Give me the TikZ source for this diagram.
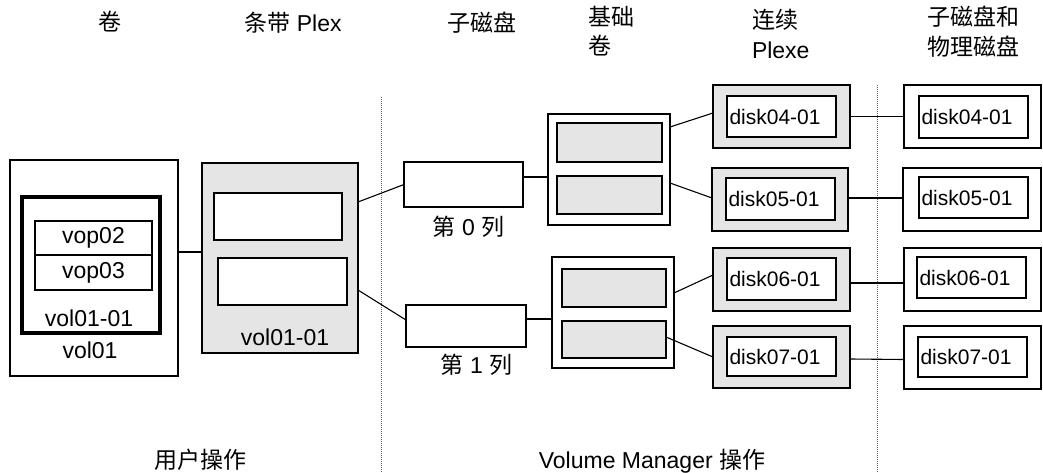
\documentclass[tikz,border=0pt]{standalone}
\usepackage{fontspec}
\setmainfont{Liberation Sans}
\newfontfamily\cjk{Noto Sans CJK SC}
\begin{document}
\begin{tikzpicture}[x=1pt,y=-1pt,
  every node/.style={inner sep=0pt,outer sep=0pt},
  frame/.style={draw,line width=2.2pt},
  thinframe/.style={draw,line width=1.1pt,fill=white},
  shade/.style={fill=black!10},
  lab/.style={font=\fontsize{23}{27}\selectfont},
  dlab/.style={font=\fontsize{21}{25}\selectfont},
  conn/.style={line width=1.1pt},
  tconn/.style={line width=2.2pt},
  sep/.style={line width=1pt,draw=black!60,dash pattern=on 1pt off 1pt}]
\useasboundingbox (0,0) rectangle (1043,473);

% headers
\node[lab,anchor=base] (h1) at (110,31) {\cjk 卷};
\node[lab,anchor=base] (h2) at (293,32) {{\cjk 条带} Plex};
\node[lab,anchor=base] (h3) at (482,32) {\cjk 子磁盘};
\node[lab,anchor=base west] (h4a) at (588,26) {\cjk 基础};
\node[lab,anchor=base west] (h4b) at (588,55) {\cjk 卷};
\node[lab,anchor=base west] (h5a) at (752,29) {\cjk 连续};
\node[lab,anchor=base west] (h5b) at (752,59) {Plexe};
\node[lab,anchor=base] (h6a) at (973,26) {\cjk 子磁盘和};
\node[lab,anchor=base] (h6b) at (973,56) {\cjk 物理磁盘};

% bottom labels
\node[lab,anchor=base] (f1) at (200,468) {\cjk 用户操作};
\node[lab,anchor=base] (f2) at (652,468) {Volume Manager {\cjk 操作}};

% separators
\coordinate (s1t) at (381,97);
\coordinate (s1b) at (381,473);
\coordinate (s2t) at (877,85);
\coordinate (s2b) at (877,473);
\draw[sep] (s1t) -- (s1b);
\draw[sep] (s2t) -- (s2b);

% volume
\node[frame,line width=2pt,minimum width=168pt,minimum height=216pt] (vol) at (94,268) {};
\node[draw,line width=4pt,minimum width=138pt,minimum height=136pt] (volplex) at (91,265) {};
\node[draw,line width=1.8pt,minimum width=117pt,minimum height=34pt,lab] (vop2) at (93.5,238) {vop02};
\node[draw,line width=1.8pt,minimum width=117pt,minimum height=35pt,lab] (vop3) at (93.5,272.5) {vop03};
\node[lab] (lvolplex) at (89,318) {vol01-01};
\node[lab] (lvol) at (90,350) {vol01};

% striped plex
\node[frame,shade,minimum width=156pt,minimum height=190pt] (plex) at (280,258) {};
\node[thinframe,minimum width=128pt,minimum height=47pt] (pc0) at (278,216.5) {};
\node[thinframe,minimum width=129pt,minimum height=47pt] (pc1) at (282.5,281.5) {};
\node[lab] (lplex) at (285,337) {vol01-01};

% subdisks
\node[thinframe,minimum width=119pt,minimum height=45pt] (sd0) at (463.5,184.5) {};
\node[thinframe,minimum width=120pt,minimum height=42pt] (sd1) at (466,326) {};
\node[lab] (lsd0) at (468.5,227) {{\cjk 第} 0 {\cjk 列}};
\node[lab] (lsd1) at (476.5,365) {{\cjk 第} 1 {\cjk 列}};

% base volumes
\node[frame,minimum width=122pt,minimum height=111pt] (bv0) at (609,169.5) {};
\node[frame,shade,minimum width=105pt,minimum height=39pt] (bv0a) at (609.5,142.5) {};
\node[frame,shade,minimum width=105pt,minimum height=38pt] (bv0b) at (609.5,195) {};
\node[frame,minimum width=122pt,minimum height=111pt] (bv1) at (613,312.5) {};
\node[frame,shade,minimum width=104pt,minimum height=38pt] (bv1a) at (614,288) {};
\node[frame,shade,minimum width=104pt,minimum height=37pt] (bv1b) at (614,339.5) {};

% concat plexes
\node[frame,shade,minimum width=137pt,minimum height=63pt] (d4a) at (781.5,116.5) {};
\node[frame,fill=white,minimum width=109pt,minimum height=41pt] (d4ai) at (781.5,116.5) {};
\node[frame,shade,minimum width=136pt,minimum height=63pt] (d5a) at (780,199.5) {};
\node[frame,fill=white,minimum width=109pt,minimum height=42pt] (d5ai) at (780.5,199) {};
\node[frame,shade,minimum width=137pt,minimum height=63pt] (d6a) at (781.5,279.5) {};
\node[frame,fill=white,minimum width=109pt,minimum height=42pt] (d6ai) at (781.5,279) {};
\node[frame,shade,minimum width=137pt,minimum height=62pt] (d7a) at (781.5,357) {};
\node[frame,fill=white,minimum width=109pt,minimum height=39pt] (d7ai) at (781.5,356.5) {};
\node[dlab,anchor=west] (t4a) at ([xshift=2.5pt]d4ai.west) {disk04-01};
\node[dlab,anchor=west] (t5a) at ([xshift=2.5pt]d5ai.west) {disk05-01};
\node[dlab,anchor=west] (t6a) at ([xshift=2.5pt]d6ai.west) {disk06-01};
\node[dlab,anchor=west] (t7a) at ([xshift=2.5pt]d7ai.west) {disk07-01};

% subdisks and physical disks
\node[frame,minimum width=137pt,minimum height=63pt] (d4b) at (972.5,116.5) {};
\node[frame,minimum width=109pt,minimum height=42pt] (d4bi) at (973.5,117) {};
\node[frame,minimum width=138pt,minimum height=63pt] (d5b) at (972,199.5) {};
\node[frame,minimum width=109pt,minimum height=41pt] (d5bi) at (973.5,197.5) {};
\node[frame,minimum width=137pt,minimum height=63pt] (d6b) at (972.5,279.5) {};
\node[frame,minimum width=109pt,minimum height=41pt] (d6bi) at (971.5,277.5) {};
\node[frame,minimum width=137pt,minimum height=63pt] (d7b) at (972.5,357.5) {};
\node[frame,minimum width=109pt,minimum height=40pt] (d7bi) at (972.5,357) {};
\node[dlab,anchor=west] (t4b) at ([xshift=2.5pt]d4bi.west) {disk04-01};
\node[dlab,anchor=west] (t5b) at ([xshift=2.5pt]d5bi.west) {disk05-01};
\node[dlab,anchor=west] (t6b) at ([xshift=2.5pt]d6bi.west) {disk06-01};
\node[dlab,anchor=west] (t7b) at ([xshift=2.5pt]d7bi.west) {disk07-01};

% connectors
\draw[conn] ([yshift=16pt]vol.east) -- ([yshift=6pt]plex.west);
\draw[conn] ([yshift=56pt]plex.east) -- (sd0.west);
\draw[conn] ([yshift=-32pt]plex.east) -- ([yshift=6pt]sd1.west);
\draw[tconn] ([yshift=7.5pt]sd0.east) -- ([yshift=-7.5pt]bv0.west);
\draw[tconn] ([yshift=7pt]sd1.east) -- ([yshift=-6.5pt]bv1.west);
\draw[conn] ([yshift=42.5pt]bv0.east) -- ([yshift=3.5pt]d4a.west);
\draw[conn] ([yshift=-13.5pt]bv0.east) -- ([yshift=1.5pt]d5a.west);
\draw[conn] ([yshift=19.5pt]bv1.east) -- ([yshift=4.5pt]d6a.west);
\draw[conn] ([yshift=2.5pt]bv1b.east) -- (d7a.west);
\draw[conn] (d4a.east) -- (d4b.west);
\draw[conn] ([yshift=1.5pt]d5a.east) -- ([yshift=1.5pt]d5b.west);
\draw[conn] ([yshift=-3.5pt]d6a.east) -- ([yshift=-3.5pt]d6b.west);
\draw[conn] ([yshift=-2pt]d7a.east) -- ([yshift=-2pt]d7b.west);
\end{tikzpicture}
\end{document}
